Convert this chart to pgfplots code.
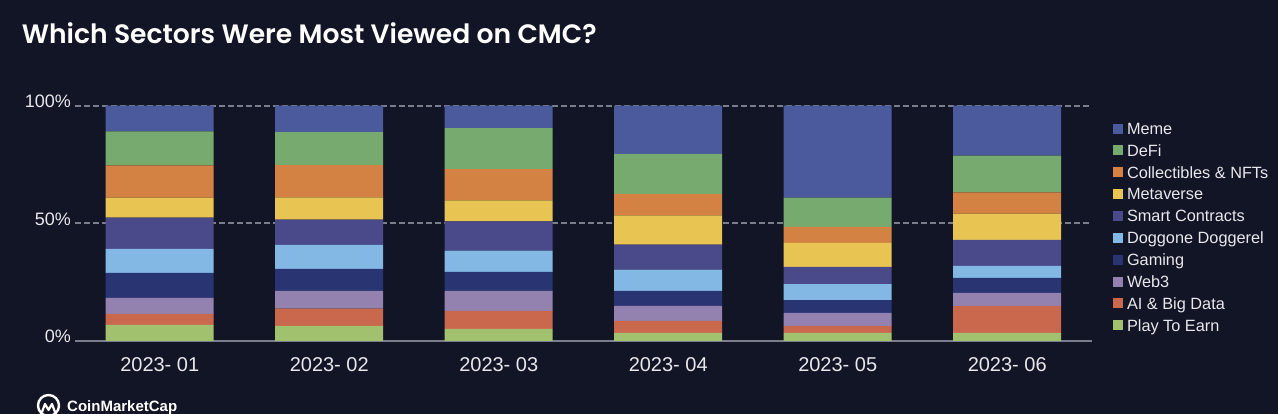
\documentclass[border=0pt]{standalone}
\usepackage{fontspec}
\setmainfont{Liberation Sans}
\newfontfamily\titlefont{Poppins}[BoldFont={* SemiBold}]
\usepackage{pgfplots}
\pgfplotsset{compat=1.18}
\usepackage{pgfplotstable}

\definecolor{bgc}{RGB}{18,21,38}
\definecolor{gridc}{RGB}{122,125,138}
\definecolor{txtc}{RGB}{232,232,236}
\definecolor{cMeme}{HTML}{4A5A9C}
\definecolor{cDeFi}{HTML}{77AA6E}
\definecolor{cColl}{HTML}{D38243}
\definecolor{cMeta}{HTML}{E8C453}
\definecolor{cSmart}{HTML}{4A4A8B}
\definecolor{cDog}{HTML}{82B8E3}
\definecolor{cGaming}{HTML}{293572}
\definecolor{cWeb}{HTML}{9381B0}
\definecolor{cAI}{HTML}{C9684C}
\definecolor{cPlay}{HTML}{A1C16F}

\pgfplotsset{sqlegend/.style={legend image code/.code={\fill[##1] (0pt,-3.3pt) rectangle (10pt,6.7pt);}}}

% share of views per sector, in %
\pgfplotstableread{
x Play AI Web3 Gaming Dog Smart Meta Coll DeFi Meme
0 6.8 4.7 6.8 10.7 10.2 13.2 8.5 13.7 14.5 10.9
1 6.4 7.4 7.5 9.4 10.2 10.7 9.4 13.7 14.1 11.2
2 5.1 7.7 8.5 8.1 9.0 12.4 9.0 13.2 17.5 9.5
3 3.4 5.1 6.4 6.4 9.0 10.7 12.4 9.0 17.1 20.5
4 3.4 3.0 5.5 5.5 6.8 7.3 10.2 6.8 12.4 39.1
5 3.4 11.5 5.5 6.4 5.1 11.1 11.1 9.1 15.6 21.2
}\views

\begin{document}
\begin{tikzpicture}[x=1pt,y=1pt]
\fill[bgc] (0,0) rectangle (1278,414);
\useasboundingbox (0,0) rectangle (1278,414);

\node[anchor=base west, inner sep=0pt, text=white,
  font=\titlefont\bfseries\fontsize{26.6}{30}\selectfont]
  at (21.7,370.7) {Which Sectors Were Most Viewed on CMC?};

\begin{axis}[
  at={(75pt,73pt)}, anchor=south west,
  scale only axis, width=1017pt, height=235.3pt,
  xmin=-0.5, xmax=5.5, ymin=0, ymax=100,
  ybar stacked, bar width=108pt,
  axis line style={draw=none},
  tick style={draw=none},
  xtick={0,...,5},
  xticklabels={2023- 01,2023- 02,2023- 03,2023- 04,2023- 05,2023- 06},
  xticklabel style={anchor=base, yshift=-30.7pt, inner sep=0pt,
    font=\fontsize{20}{20}\selectfont, text=txtc},
  ytick={0,50,100},
  yticklabels={0\%,50\%,100\%},
  yticklabel style={anchor=base east, xshift=-4pt, yshift=-2pt, inner sep=0pt,
    font=\fontsize{18}{18}\selectfont, text=txtc},
  /pgf/number format/assume math mode=true,
  ymajorgrids,
  major grid style={gridc, line width=2.2pt, dash pattern=on 6pt off 3pt},
  extra y ticks={0},
  extra y tick labels={},
  extra y tick style={major grid style={gridc, line width=2.2pt, solid}},
  every axis plot/.append style={draw=none},
  every axis plot post/.append style={sqlegend},
  reverse legend,
  legend cell align=left,
  legend style={at={(1.0204,0.9418)}, anchor=north west,
    draw=none, fill=none, inner sep=0pt, outer sep=0pt,
    row sep=0pt, column sep=4.3pt,
    font=\fontsize{16.3}{16.3}\selectfont, text=txtc,
    nodes={inner xsep=0pt, inner ysep=2.93pt, text height=12pt, text depth=4pt}},
]
\addplot[fill=cPlay] table[x=x, y=Play] {\views};
\addlegendentry{Play To Earn}
\addplot[fill=cAI] table[x=x, y=AI] {\views};
\addlegendentry{AI \& Big Data}
\addplot[fill=cWeb] table[x=x, y=Web3] {\views};
\addlegendentry{Web3}
\addplot[fill=cGaming] table[x=x, y=Gaming] {\views};
\addlegendentry{Gaming}
\addplot[fill=cDog] table[x=x, y=Dog] {\views};
\addlegendentry{Doggone Doggerel}
\addplot[fill=cSmart] table[x=x, y=Smart] {\views};
\addlegendentry{Smart Contracts}
\addplot[fill=cMeta] table[x=x, y=Meta] {\views};
\addlegendentry{Metaverse}
\addplot[fill=cColl] table[x=x, y=Coll] {\views};
\addlegendentry{Collectibles \& NFTs}
\addplot[fill=cDeFi] table[x=x, y=DeFi] {\views};
\addlegendentry{DeFi}
\addplot[fill=cMeme] table[x=x, y=Meme] {\views};
\addlegendentry{Meme}
\end{axis}

% CoinMarketCap mark
\draw[white, line width=2.4pt] (48.5,8.5) circle (10.5);
\draw[white, line width=2.2pt, line join=round, line cap=round]
  (42,2) -- (45,10) -- (48.5,4) -- (52,10) -- (55,2);
\node[anchor=base west, inner sep=0pt, text=white,
  font=\bfseries\fontsize{15}{15}\selectfont] at (67,2) {CoinMarketCap};
\end{tikzpicture}
\end{document}
